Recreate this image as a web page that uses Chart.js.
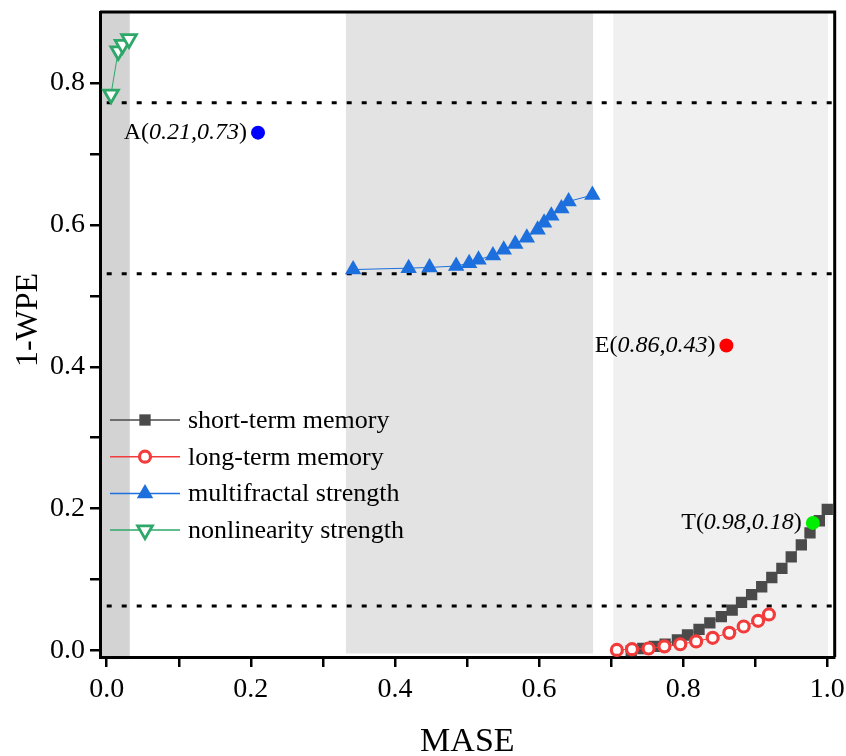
<!DOCTYPE html>
<html>
<head>
<meta charset="utf-8">
<script src="https://cdn.jsdelivr.net/npm/chart.js@4.4.1/dist/chart.umd.min.js"></script>
<style>
  html, body { margin: 0; padding: 0; background: #fff; }
  #wrap { width: 846px; height: 756px; }
</style>
</head>
<body>
<div id="wrap"><canvas id="mapChart"></canvas></div>
<script>
// short-term memory (squares)
const shortX = [0.728, 0.744, 0.760, 0.775, 0.792, 0.806, 0.822, 0.837, 0.853, 0.868,
                0.881, 0.895, 0.909, 0.923, 0.937, 0.950, 0.964, 0.976, 0.989, 1.000];
const shortY = [0.000, 0.003, 0.006, 0.009, 0.015, 0.022, 0.030, 0.039, 0.048, 0.057,
                0.068, 0.079, 0.090, 0.103, 0.116, 0.132, 0.149, 0.166, 0.183, 0.199];

// long-term memory (open circles)
const longX = [0.708, 0.729, 0.752, 0.774, 0.796, 0.818, 0.841, 0.864, 0.884, 0.904, 0.919];
const longY = [0.001, 0.002, 0.003, 0.006, 0.009, 0.013, 0.018, 0.025, 0.034, 0.042, 0.051];

// multifractal strength (filled triangles)
const multiX = [0.342, 0.419, 0.448, 0.485, 0.503, 0.516, 0.536, 0.551,
                0.567, 0.583, 0.598, 0.607, 0.617, 0.631, 0.641, 0.674];
const multiY = [0.537, 0.539, 0.540, 0.542, 0.546, 0.551, 0.557, 0.565,
                0.573, 0.582, 0.593, 0.603, 0.613, 0.623, 0.633, 0.642];

// nonlinearity strength (open down triangles)
const nonlinX = [0.006, 0.016, 0.022, 0.031];
const nonlinY = [0.784, 0.845, 0.854, 0.862];

// labelled reference points
const refNames = ['A', 'E', 'T'];
const refX = [0.21, 0.86, 0.98];
const refY = [0.73, 0.43, 0.18];
const refColors = ['#0000ff', '#ff0000', '#00ee00'];

// dotted threshold lines
const thresholdY = [0.772, 0.531, 0.063];

// shaded MASE bands [from, to]
const bandFrom = [-0.02, 0.332, 0.703];
const bandTo = [0.032, 0.675, 1.001];
const bandBottom = [-0.012, -0.004, -0.009];
const bandColors = ['#d3d3d3', '#e3e3e3', '#f0f0f0'];

const xTicks = [0, 0.1, 0.2, 0.3, 0.4, 0.5, 0.6, 0.7, 0.8, 0.9, 1.0];
const xTickLabels = ['0.0', '', '0.2', '', '0.4', '', '0.6', '', '0.8', '', '1.0'];
const yTicks = [0, 0.1, 0.2, 0.3, 0.4, 0.5, 0.6, 0.7, 0.8];
const yTickLabels = ['0.0', '', '0.2', '', '0.4', '', '0.6', '', '0.8'];

const FONT = "'Liberation Serif', 'Times New Roman', serif";

const zip = (xs, ys) => xs.map((x, i) => ({ x: x, y: ys[i] }));

function drawMarker(ctx, style, x, y, r, rotation, fill, stroke, lw) {
    ctx.save();
    ctx.beginPath();
    if (style === 'rect') {
        const s = r * Math.SQRT1_2;
        ctx.rect(x - s, y - s, 2 * s, 2 * s);
    } else if (style === 'triangle') {
        let rad = (rotation || 0) * Math.PI / 180;
        for (let k = 0; k < 3; k++) {
            const px = x + Math.sin(rad) * r;
            const py = y - Math.cos(rad) * r;
            if (k === 0) ctx.moveTo(px, py); else ctx.lineTo(px, py);
            rad += 2 * Math.PI / 3;
        }
        ctx.closePath();
    } else {
        ctx.arc(x, y, r, 0, Math.PI * 2);
    }
    ctx.fillStyle = fill;
    ctx.fill();
    if (lw > 0) {
        ctx.lineWidth = lw;
        ctx.strokeStyle = stroke;
        ctx.stroke();
    }
    ctx.restore();
}

// grey bands behind everything
const bandsPlugin = {
    id: 'bands',
    beforeDraw(chart) {
        const { ctx, chartArea, scales: { x, y } } = chart;
        ctx.save();
        bandFrom.forEach((from, i) => {
            const x1 = Math.max(x.getPixelForValue(from), chartArea.left);
            const x2 = x.getPixelForValue(bandTo[i]);
            const y2 = y.getPixelForValue(bandBottom[i]);
            ctx.fillStyle = bandColors[i];
            ctx.fillRect(x1, chartArea.top, x2 - x1, y2 - chartArea.top);
        });
        ctx.restore();
    }
};

// top and right edges of the frame, plus the vertical axis title
const framePlugin = {
    id: 'frame',
    afterDraw(chart) {
        const { ctx, chartArea: a } = chart;
        ctx.save();
        ctx.strokeStyle = '#000';
        ctx.lineWidth = 3;
        ctx.beginPath();
        ctx.moveTo(a.left, a.top);
        ctx.lineTo(a.right, a.top);
        ctx.lineTo(a.right, a.bottom);
        ctx.stroke();

        ctx.translate(28, 320);
        ctx.rotate(-Math.PI / 2);
        ctx.fillStyle = '#000';
        ctx.font = '32px ' + FONT;
        ctx.textAlign = 'center';
        ctx.textBaseline = 'middle';
        ctx.fillText('1-WPE', 0, 1);
        ctx.restore();
    }
};

// "A(0.21,0.73)" style captions left of each reference point
const captionPlugin = {
    id: 'captions',
    afterDatasetsDraw(chart) {
        const { ctx, scales: { x, y } } = chart;
        ctx.save();
        ctx.fillStyle = '#000';
        ctx.textBaseline = 'middle';
        refNames.forEach((name, i) => {
            const parts = [
                { t: name + '(', f: 'normal 24px ' + FONT },
                { t: refX[i].toFixed(2) + ',' + refY[i].toFixed(2), f: 'italic 24px ' + FONT },
                { t: ')', f: 'normal 24px ' + FONT }
            ];
            let w = 0;
            parts.forEach(p => { ctx.font = p.f; p.w = ctx.measureText(p.t).width; w += p.w; });
            let px = x.getPixelForValue(refX[i]) - 11 - w;
            const py = y.getPixelForValue(refY[i]);
            parts.forEach(p => { ctx.font = p.f; ctx.fillText(p.t, px, py); px += p.w; });
        });
        ctx.restore();
    }
};

// legend inside the plot, line with marker in the middle
const legendPlugin = {
    id: 'inlineLegend',
    afterDatasetsDraw(chart) {
        const { ctx } = chart;
        const items = chart.data.datasets.filter(d => d.inLegend);
        ctx.save();
        ctx.font = '26px ' + FONT;
        ctx.textBaseline = 'middle';
        items.forEach((d, i) => {
            const yy = 420 + i * 36.7;
            ctx.strokeStyle = d.borderColor;
            ctx.lineWidth = 1.5;
            ctx.beginPath();
            ctx.moveTo(110, yy);
            ctx.lineTo(180, yy);
            ctx.stroke();
            drawMarker(ctx, d.pointStyle, 145, yy, d.pointRadius, d.rotation,
                d.pointBackgroundColor, d.pointBorderColor, d.pointBorderWidth);
            ctx.fillStyle = '#000';
            ctx.fillText(d.label, 188, yy + 1);
        });
        ctx.restore();
    }
};

const datasets = [];

refNames.forEach((name, i) => {
    datasets.push({
        label: name,
        data: [{ x: refX[i], y: refY[i] }],
        pointStyle: 'circle',
        pointRadius: 7,
        pointBackgroundColor: refColors[i],
        pointBorderWidth: 0,
        order: 0
    });
});

datasets.push({
    label: 'short-term memory',
    inLegend: true,
    data: zip(shortX, shortY),
    showLine: true,
    borderColor: '#4a4a4a',
    borderWidth: 1,
    pointStyle: 'rect',
    pointRadius: 8,
    pointBackgroundColor: '#4a4a4a',
    pointBorderColor: '#4a4a4a',
    pointBorderWidth: 0,
    order: 4
});

datasets.push({
    label: 'long-term memory',
    inLegend: true,
    data: zip(longX, longY),
    showLine: true,
    borderColor: '#f23c3c',
    borderWidth: 1,
    pointStyle: 'circle',
    pointRadius: 5.5,
    pointBackgroundColor: '#ffffff',
    pointBorderColor: '#f23c3c',
    pointBorderWidth: 3.2,
    order: 3
});

datasets.push({
    label: 'multifractal strength',
    inLegend: true,
    data: zip(multiX, multiY),
    showLine: true,
    borderColor: '#1c6fdc',
    borderWidth: 1,
    pointStyle: 'triangle',
    pointRadius: 9.5,
    pointBackgroundColor: '#1c6fdc',
    pointBorderColor: '#1c6fdc',
    pointBorderWidth: 0,
    order: 2
});

datasets.push({
    label: 'nonlinearity strength',
    inLegend: true,
    data: zip(nonlinX, nonlinY),
    showLine: true,
    borderColor: '#2ea868',
    borderWidth: 1,
    pointStyle: 'triangle',
    rotation: 180,
    pointRotation: 180,
    pointRadius: 8.5,
    pointBackgroundColor: '#ffffff',
    pointBorderColor: '#2ea868',
    pointBorderWidth: 2.8,
    order: 1
});

thresholdY.forEach(v => {
    datasets.push({
        label: 'threshold',
        data: [{ x: 0, y: v }, { x: 1.02, y: v }],
        showLine: true,
        borderColor: '#000',
        borderWidth: 3,
        borderDash: [5, 10],
        pointRadius: 0,
        order: 10
    });
});

new Chart(document.getElementById('mapChart'), {
    type: 'scatter',
    data: { datasets: datasets },
    plugins: [bandsPlugin, captionPlugin, legendPlugin, framePlugin],
    options: {
        responsive: true,
        maintainAspectRatio: false,
        animation: false,
        layout: { padding: { top: 12, right: 10, left: 0, bottom: 0 } },
        plugins: { legend: { display: false }, tooltip: { enabled: false } },
        scales: {
            x: {
                type: 'linear',
                min: -0.0093,
                max: 1.0103,
                afterFit: s => { s.height = 99; s.paddingLeft = 0; s.paddingRight = 0; },
                afterBuildTicks: s => { s.ticks = xTicks.map(v => ({ value: v })); },
                ticks: {
                    autoSkip: false,
                    maxRotation: 0,
                    padding: 6,
                    color: '#000',
                    font: { family: FONT, size: 28 },
                    callback: (v, i) => xTickLabels[i]
                },
                grid: { drawOnChartArea: false, drawTicks: true, tickLength: 10, color: '#000', lineWidth: 2.5 },
                border: { display: true, color: '#000', width: 3 },
                title: {
                    display: true,
                    text: 'MASE',
                    color: '#000',
                    font: { family: FONT, size: 34, lineHeight: 1 },
                    padding: { top: 0, bottom: -3 }
                }
            },
            y: {
                type: 'linear',
                min: -0.009,
                max: 0.9,
                afterFit: s => { s.width = 100; s.paddingTop = 0; s.paddingBottom = 0; },
                afterBuildTicks: s => { s.ticks = yTicks.map(v => ({ value: v })); },
                ticks: {
                    autoSkip: false,
                    padding: 5,
                    color: '#000',
                    font: { family: FONT, size: 28 },
                    callback: (v, i) => yTickLabels[i]
                },
                grid: { drawOnChartArea: false, drawTicks: true, tickLength: 10, color: '#000', lineWidth: 2.5 },
                border: { display: true, color: '#000', width: 3 }
            }
        }
    }
});
</script>
</body>
</html>
